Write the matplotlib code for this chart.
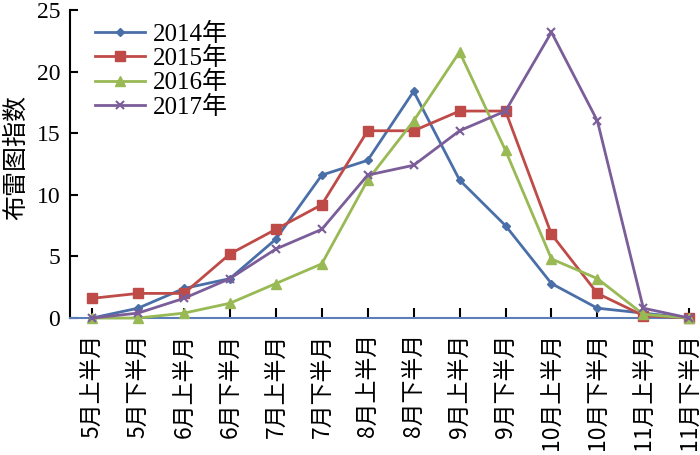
import matplotlib
matplotlib.use("Agg")
import matplotlib.pyplot as plt

# half-month periods
periods = ['5月上半月', '5月下半月', '6月上半月', '6月下半月', '7月上半月', '7月下半月',
           '8月上半月', '8月下半月', '9月上半月', '9月下半月', '10月上半月', '10月下半月',
           '11月上半月', '11月下半月']

bi_2014 = [0, 0.8, 2.4, 3.2, 6.4, 11.6, 12.8, 18.4, 11.2, 7.5, 2.8, 0.8, 0.4, 0]
bi_2015 = [1.6, 2.0, 2.0, 5.2, 7.2, 9.2, 15.2, 15.2, 16.8, 16.8, 6.8, 2.0, 0.2, 0]
bi_2016 = [0, 0, 0.4, 1.2, 2.8, 4.4, 11.2, 16.0, 21.6, 13.6, 4.8, 3.2, 0.3, 0]
bi_2017 = [0, 0.4, 1.6, 3.2, 5.6, 7.2, 11.6, 12.4, 15.2, 16.8, 23.2, 16.0, 0.8, 0]

labels = ['2014年', '2015年', '2016年', '2017年']
colors = ['#4a6fa8', '#be4b48', '#98b954', '#7b5d99']
markers = ['D', 's', '^', 'x']
msizes = [4.5, 6.5, 6.5, 6]

serif = ['Liberation Serif', 'Noto Sans CJK SC']
cjk = ['Noto Sans CJK SC', 'DejaVu Sans']

fig = plt.figure(figsize=(7, 4.55), dpi=100)
ax = fig.add_axes([0.1, 0.301, 0.886, 0.677])

x = list(range(len(periods)))
for data, lab, c, m, ms in zip([bi_2014, bi_2015, bi_2016, bi_2017], labels, colors, markers, msizes):
    ax.plot(x, data, color=c, marker=m, markersize=ms, linewidth=2, label=lab,
            markeredgewidth=1.5 if m == 'x' else 1, clip_on=False, zorder=3)

ax.set_xlim(-0.48, 13.02)
ax.set_ylim(0, 25)
ax.set_yticks([0, 5, 10, 15, 20, 25])
ax.set_xticks(x)
ax.set_xticklabels(periods, rotation=90, family=cjk, fontsize=16.5)
for t in ax.get_yticklabels():
    t.set_family(serif)
    t.set_fontsize(17)

ax.spines['top'].set_visible(False)
ax.spines['right'].set_visible(False)
ax.spines['left'].set_linewidth(1.5)
ax.spines['bottom'].set_color('#5b7db8')
ax.spines['bottom'].set_linewidth(1.5)
ax.tick_params(axis='y', direction='in', length=6, width=1.5, pad=7)
ax.tick_params(axis='x', direction='in', length=7, width=1.5, pad=11)

ax.set_ylabel('布雷图指数', family=cjk, fontsize=18)
ax.yaxis.set_label_coords(-0.066, 0.52)

ax.legend(loc='upper left', bbox_to_anchor=(0.02, 1.0), frameon=False,
          prop={'family': serif, 'size': 18}, handlelength=2.0,
          labelspacing=0.05, handletextpad=0.3, borderpad=0)

fig.savefig('out.png', dpi=100)
